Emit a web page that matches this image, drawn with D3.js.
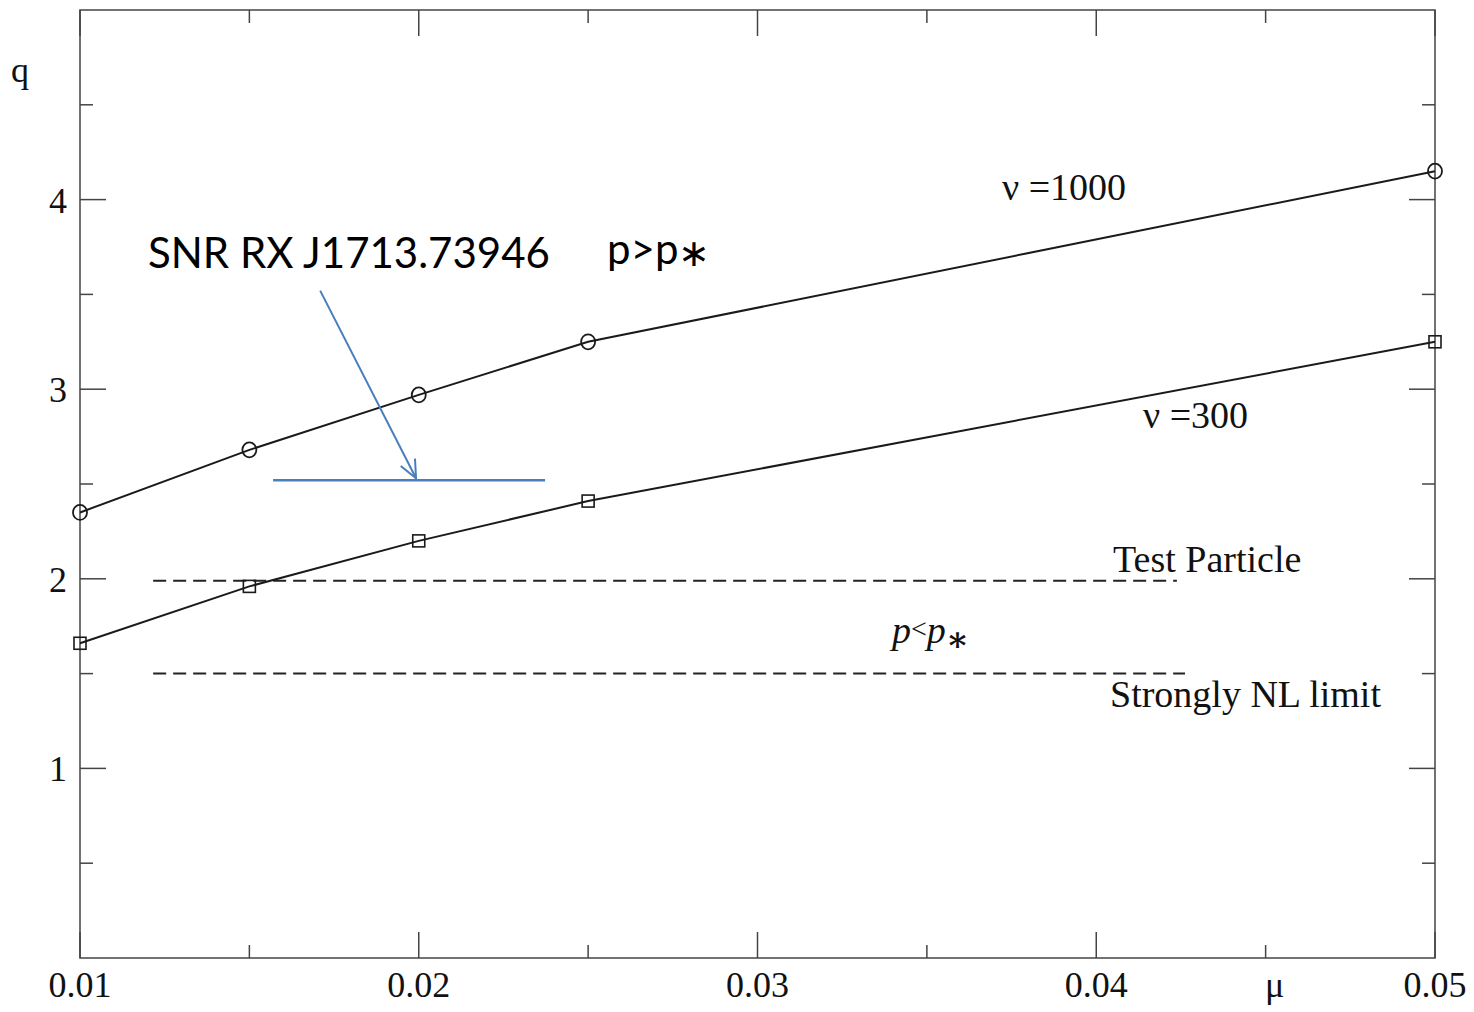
<!DOCTYPE html>
<html lang="en">
<head>
  <meta charset="UTF-8">
  <title></title>
  <style>
    html, body {
      margin: 0;
      overflow: hidden;
      width: 100%;
      height: 100%;
      background: #fff;
    }
    svg {
      position: absolute;
      top: 0;
      left: 0;
    }
    .serif { font-family: "Liberation Serif", "DejaVu Serif", serif; fill: #111; }
    .sans { font-family: Lato, "Open Sans", sans-serif; fill: #000; }
  </style>
</head>
<body>
  <svg width="1474" height="1012"></svg>
</body>
<script src="https://d3js.org/d3.v7.min.js"></script>
<script type="text/javascript">
  // data
  const mu = [0.01, 0.015, 0.02, 0.025, 0.05]
  const q1000 = [2.35, 2.68, 2.97, 3.25, 4.15]
  const q300 = [1.66, 1.96, 2.20, 2.41, 3.25]
  const xMajor = [0.01, 0.02, 0.03, 0.04, 0.05]
  const xMinor = [0.015, 0.025, 0.035, 0.045]
  const yMajor = [1, 2, 3, 4]
  const yMinor = [0.5, 1.5, 2.5, 3.5, 4.5]
  const testParticle = { q: 1.99, from: 0.01216, to: 0.04238 }
  const nlLimit = { q: 1.5, from: 0.01216, to: 0.04262 }
  const snrLine = { q: 2.52, from: 0.0157, to: 0.02373 }
  const snrArrow = { x1: 0.01709, q1: 3.52, x2: 0.01992, q2: 2.53 }

  const svg = d3.select('svg')
  const x0 = 80, x1 = 1435, y0 = 10, y1 = 958

  const x = d3.scaleLinear().domain([0.01, 0.05]).range([x0, x1])
  const y = d3.scaleLinear().domain([0, 5]).range([y1, y0])

  const ink = '#1a1a1a'
  const frame = '#444'

  // frame
  svg.append('rect')
    .attr('x', x0).attr('y', y0)
    .attr('width', x1 - x0).attr('height', y1 - y0)
    .attr('fill', 'none').attr('stroke', frame).attr('stroke-width', 1.5)

  // inward ticks on all four sides
  const ticks = svg.append('g').attr('stroke', frame).attr('stroke-width', 1.5)
  const xt = xMajor.map(v => [v, 26]).concat(xMinor.map(v => [v, 13]))
  const yt = yMajor.map(v => [v, 26]).concat(yMinor.map(v => [v, 13]))
  ticks.selectAll('.xb').data(xt).enter().append('line')
    .attr('x1', d => x(d[0])).attr('x2', d => x(d[0]))
    .attr('y1', y1).attr('y2', d => y1 - d[1])
  ticks.selectAll('.xt').data(xt).enter().append('line')
    .attr('x1', d => x(d[0])).attr('x2', d => x(d[0]))
    .attr('y1', y0).attr('y2', d => y0 + d[1])
  ticks.selectAll('.yl').data(yt).enter().append('line')
    .attr('y1', d => y(d[0])).attr('y2', d => y(d[0]))
    .attr('x1', x0).attr('x2', d => x0 + d[1])
  ticks.selectAll('.yr').data(yt).enter().append('line')
    .attr('y1', d => y(d[0])).attr('y2', d => y(d[0]))
    .attr('x1', x1).attr('x2', d => x1 - d[1])

  // tick labels
  svg.append('g').selectAll('text')
    .data(xMajor)
    .enter().append('text')
      .attr('class', 'serif')
      .attr('x', d => x(d))
      .attr('y', 997)
      .attr('text-anchor', 'middle')
      .attr('font-size', 36)
      .text(d => d3.format('.2f')(d))

  svg.append('g').selectAll('text')
    .data(yMajor)
    .enter().append('text')
      .attr('class', 'serif')
      .attr('x', 67)
      .attr('y', d => y(d) + 13)
      .attr('text-anchor', 'end')
      .attr('font-size', 36)
      .text(d => d)

  svg.append('text').attr('class', 'serif')
    .attr('x', 11).attr('y', 82).attr('font-size', 36).text('q')
  svg.append('text').attr('class', 'serif')
    .attr('x', 1265).attr('y', 997).attr('font-size', 36).text('μ')

  // dashed limits
  const dashes = [testParticle, nlLimit]
  svg.append('g').selectAll('line')
    .data(dashes)
    .enter().append('line')
      .attr('x1', d => x(d.from)).attr('x2', d => x(d.to))
      .attr('y1', d => y(d.q)).attr('y2', d => y(d.q))
      .attr('stroke', '#222').attr('stroke-width', 2)
      .attr('stroke-dasharray', '13,7')

  // series
  const line = d3.line().x(d => x(d[0])).y(d => y(d[1]))
  const s1000 = mu.map((m, i) => [m, q1000[i]])
  const s300 = mu.map((m, i) => [m, q300[i]])

  svg.append('path').datum(s1000).attr('d', line)
    .attr('fill', 'none').attr('stroke', ink).attr('stroke-width', 2)
  svg.append('path').datum(s300).attr('d', line)
    .attr('fill', 'none').attr('stroke', ink).attr('stroke-width', 2)

  svg.append('g').selectAll('ellipse')
    .data(s1000)
    .enter().append('ellipse')
      .attr('cx', d => x(d[0])).attr('cy', d => y(d[1]))
      .attr('rx', 7).attr('ry', 7.5)
      .attr('fill', 'none').attr('stroke', ink).attr('stroke-width', 1.8)

  svg.append('g').selectAll('rect')
    .data(s300)
    .enter().append('rect')
      .attr('x', d => x(d[0]) - 6).attr('y', d => y(d[1]) - 6)
      .attr('width', 12).attr('height', 12)
      .attr('fill', 'none').attr('stroke', ink).attr('stroke-width', 1.6)

  // curve labels
  const serifText = (tx, ty, str) => svg.append('text').attr('class', 'serif')
    .attr('x', tx).attr('y', ty).attr('font-size', 38).text(str)
  serifText(1002, 200, 'ν =1000')
  serifText(1143, 428, 'ν =300')
  serifText(1113, 572, 'Test Particle')
  serifText(1110, 707, 'Strongly NL limit')

  const pl = svg.append('text').attr('class', 'serif')
    .attr('x', 892).attr('y', 643).attr('font-size', 38).attr('font-style', 'italic')
  pl.append('tspan').text('p')
  pl.append('tspan').attr('font-size', 28).attr('dy', -5).attr('font-style', 'normal').text('<')
  pl.append('tspan').attr('dy', 5).text('p')
  pl.append('tspan').attr('font-size', 34).attr('dy', 8).attr('font-style', 'normal')
    .attr('font-weight', 'bold').text('∗')

  // SNR annotation
  const blue = '#4a7ebb'
  svg.append('defs').append('marker')
    .attr('id', 'head')
    .attr('viewBox', '0 0 20 20')
    .attr('refX', 19).attr('refY', 10)
    .attr('markerWidth', 20).attr('markerHeight', 20)
    .attr('markerUnits', 'userSpaceOnUse')
    .attr('orient', 'auto')
    .append('path')
      .attr('d', 'M1,2 L19,10 L1,18')
      .attr('fill', 'none').attr('stroke', blue).attr('stroke-width', 2)

  svg.append('line')
    .attr('x1', x(snrLine.from)).attr('x2', x(snrLine.to))
    .attr('y1', y(snrLine.q)).attr('y2', y(snrLine.q))
    .attr('stroke', blue).attr('stroke-width', 2.5)

  svg.append('line')
    .attr('x1', x(snrArrow.x1)).attr('y1', y(snrArrow.q1))
    .attr('x2', x(snrArrow.x2)).attr('y2', y(snrArrow.q2))
    .attr('stroke', blue).attr('stroke-width', 2)
    .attr('marker-end', 'url(#head)')

  svg.append('text').attr('class', 'sans')
    .attr('x', 148).attr('y', 268).attr('font-size', 42)
    .text('SNR RX J1713.73946')
  const pg = svg.append('text').attr('class', 'sans')
    .attr('x', 607).attr('y', 264).attr('font-size', 42)
  pg.append('tspan').text('p>p')
  pg.append('tspan').attr('font-size', 38).attr('dy', 2).text('∗')
</script>
</html>
